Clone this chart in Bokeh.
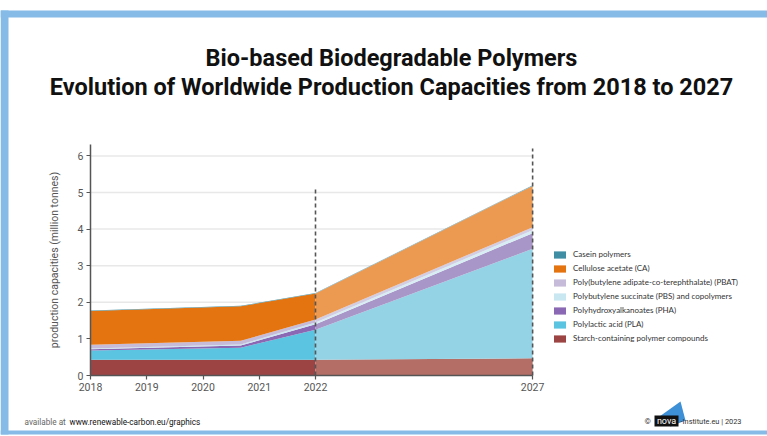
from bokeh.plotting import figure
from bokeh.models import (ColumnDataSource, FixedTicker, Label, BoxAnnotation, Legend,
                          LegendItem, PolyAnnotation, Range1d, LinearAxis)
from bokeh.embed import file_html
from bokeh.resources import INLINE

# ---------------- data ----------------
tick_labels = ["2018", "2019", "2020", "2021", "2022", "2027"]
tick_pos = [0, 1, 2, 3, 4, 7.86]          # axis is compressed after 2022
x_pts = [0, 2.67, 4, 7.86]                # points where the outline bends
y_ticks = [0, 1, 2, 3, 4, 5, 6]
series = ["Starch-containing polymer compounds", "Polylactic acid (PLA)",
          "Polyhydroxyalkanoates (PHA)", "Polybutylene succinate (PBS) and copolymers",
          "Poly(butylene adipate-co-terephthalate) (PBAT)", "Cellulose acetate (CA)",
          "Casein polymers"]
starch = [0.43, 0.43, 0.43, 0.47]
pla = [0.25, 0.33, 0.82, 2.99]
pha = [0.04, 0.06, 0.15, 0.43]
pbs = [0.02, 0.03, 0.05, 0.08]
pbat = [0.10, 0.10, 0.08, 0.08]
ca = [0.92, 0.94, 0.71, 1.13]
casein = [0.015, 0.015, 0.015, 0.015]
marker_tops = [5.1, 6.2]                  # heights of the dashed 2022 / 2027 markers

colors = ["#9c4444", "#5bc4e0", "#8b68b3", "#c9e7f1", "#c6bcd9", "#e4740f", "#3f8ea3"]
colors_fc = ["#b46e66", "#94d3e6", "#a996c8", "#d8eef5", "#d3cde3", "#ec9a52", "#6aa3b3"]

keys = ["starch", "pla", "pha", "pbs", "pbat", "ca", "casein"]
vals = [starch, pla, pha, pbs, pbat, ca, casein]

hist = {"x": x_pts[:3]}
fc = {"x": x_pts[2:]}
for k, v in zip(keys, vals):
    hist[k] = v[:3]
    fc[k] = v[2:]
src_h = ColumnDataSource(hist)
src_f = ColumnDataSource(fc)

W, H = 767, 436
X0, Y0 = 90, 375          # canvas pixel of (2018, 0)
PX_X, PX_Y = 56.25, 36.6  # pixels per unit

FONT = "Roboto"
GREY = "#555555"

p = figure(width=W, height=H, output_backend="svg", toolbar_location=None,
           x_range=Range1d(-X0 / PX_X, (W - X0) / PX_X),
           y_range=Range1d(-(H - Y0) / PX_Y, Y0 / PX_Y),
           x_axis_location=None, y_axis_location=None,
           min_border=0)
p.outline_line_color = None
p.background_fill_color = "white"
p.border_fill_color = "white"
p.xgrid.grid_line_color = None
p.ygrid.grid_line_color = None

# horizontal grid lines limited to the plotting area
p.segment(x0=[0] * 6, x1=[tick_pos[-1]] * 6, y0=y_ticks[1:], y1=y_ticks[1:],
          line_color="#e8e8e8", line_width=1.5)

rh = p.varea_stack(stackers=keys, x="x", color=colors, source=src_h)
p.varea_stack(stackers=keys, x="x", color=colors_fc, source=src_f)

# dashed vertical markers at 2022 and 2027
p.segment(x0=[tick_pos[4], tick_pos[5]], y0=[0, 0], x1=[tick_pos[4], tick_pos[5]],
          y1=marker_tops, line_color=GREY, line_width=1.6, line_dash="4 3")

# axes at fixed positions
xa = LinearAxis(fixed_location=0, bounds=(0, tick_pos[-1]),
                ticker=FixedTicker(ticks=tick_pos),
                major_label_overrides={t: l for t, l in zip(tick_pos, tick_labels)})
ya = LinearAxis(fixed_location=0, bounds=(0, 6.32), ticker=FixedTicker(ticks=y_ticks),
                axis_label="production capacities (million tonnes)")
for ax in (xa, ya):
    ax.axis_line_color = GREY
    ax.axis_line_width = 1.5
    ax.major_tick_line_color = GREY
    ax.major_tick_line_width = 1.2
    ax.major_tick_out = 4
    ax.major_tick_in = 0
    ax.minor_tick_line_color = None
    ax.major_label_text_color = GREY
    ax.major_label_text_font = FONT
    ax.major_label_text_font_size = "10.5px"
    ax.major_label_standoff = 3
ya.axis_label_text_font = FONT
ya.axis_label_text_font_size = "10.5px"
ya.axis_label_text_font_style = "normal"
ya.axis_label_text_color = GREY
ya.axis_label_standoff = 14
p.add_layout(xa, "below")
p.add_layout(ya, "left")

# legend (canvas top-left 552, 250)
items = [LegendItem(label=series[i], renderers=[rh[i]]) for i in range(len(series))][::-1]
leg = Legend(items=items, location=(552, H - 343), glyph_width=15, glyph_height=9,
             label_height=9, spacing=4, padding=0, margin=0, label_standoff=6,
             label_text_font="Lato", label_text_font_size="8px",
             label_text_color="#333333", border_line_alpha=0,
             background_fill_alpha=0)
p.add_layout(leg)


def label(text, cx, cy, **kw):
    p.add_layout(Label(x=cx, y=H - cy, x_units="screen", y_units="screen",
                       text=text, **kw))


def box(l, r, t, b, color):
    p.add_layout(BoxAnnotation(left=l, right=r, bottom=H - b, top=H - t,
                               left_units="screen", right_units="screen",
                               top_units="screen", bottom_units="screen",
                               fill_color=color, fill_alpha=1, line_color=None,
                               line_alpha=0))


label("Bio-based Biodegradable Polymers", 391, 57, text_align="center",
      text_baseline="middle", text_font=FONT, text_font_size="23.5px",
      text_font_style="bold", text_color="#111111")
label("Evolution of Worldwide Production Capacities from 2018 to 2027", 391, 86,
      text_align="center", text_baseline="middle", text_font=FONT,
      text_font_size="23.5px", text_font_style="bold", text_color="#111111")

label("available at", 24, 421, text_baseline="middle", text_font=FONT,
      text_font_size="8.2px", text_color="#666666")
label("www.renewable-carbon.eu/graphics", 69, 421, text_baseline="middle",
      text_font=FONT, text_font_size="8.2px", text_color="#111111")
label("©", 644, 421, text_baseline="middle", text_font=FONT,
      text_font_size="8px", text_color="#333333")
# nova logo
p.add_layout(PolyAnnotation(xs=[659, 680, 685, 670], ys=[H - 416, H - 401, H - 420, H - 426],
                            xs_units="screen", ys_units="screen",
                            fill_color="#3d8fd6", fill_alpha=1, line_color=None))
box(654, 678, 415, 426, "#111111")
label("nova", 666, 420.5, text_align="center", text_baseline="middle", text_font=FONT,
      text_font_size="9px", text_color="white")
label("-Institute.eu | 2023", 680, 421, text_baseline="middle", text_font=FONT,
      text_font_size="7.4px", text_color="#333333")

# blue frame
BLUE = "#86bbe8"
box(0, W, 10, 17, BLUE)
box(0, 8, 10, 434, BLUE)
box(0, W, 430, 434, BLUE)

open("out.html", "w").write(file_html(p, INLINE))
